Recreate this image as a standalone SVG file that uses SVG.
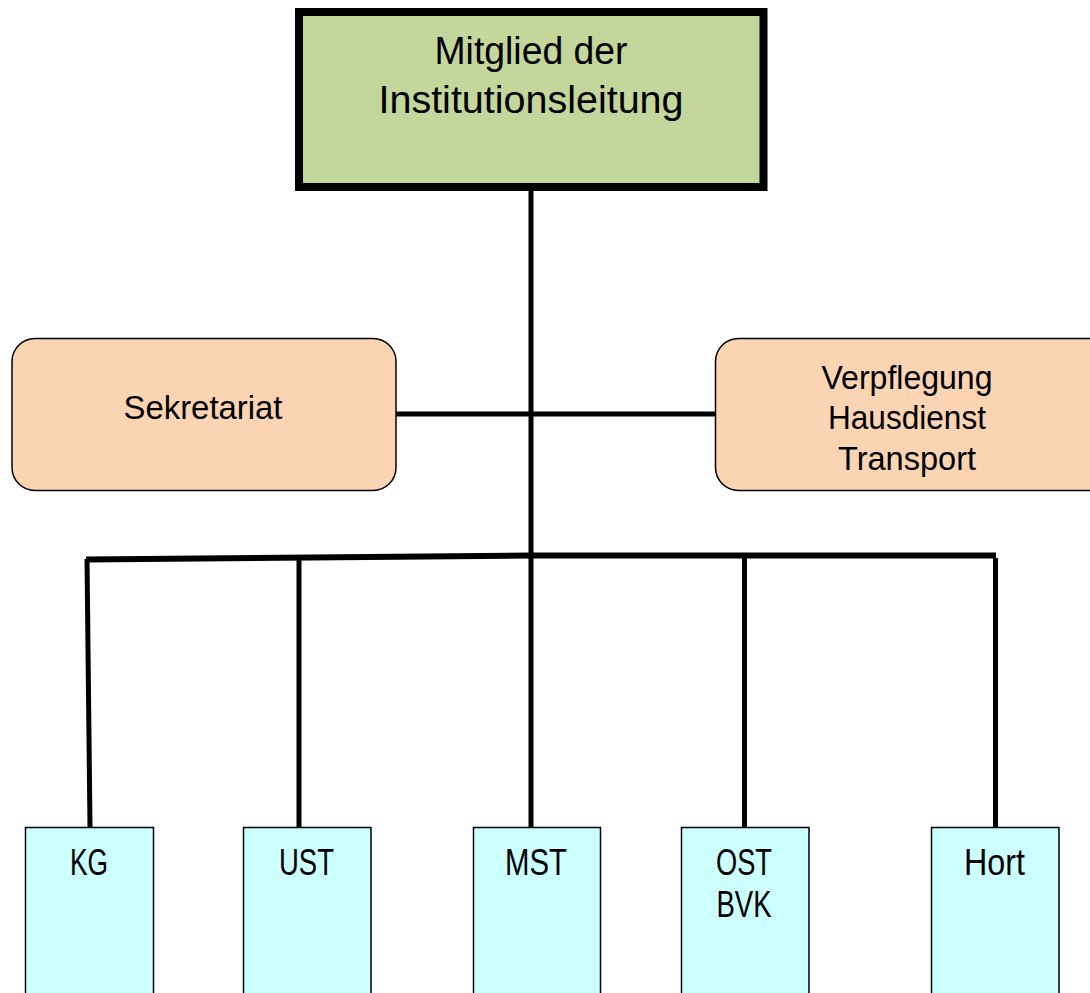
<svg xmlns="http://www.w3.org/2000/svg" width="1090" height="993" viewBox="0 0 1090 993">
<style>
text{font-family:"Liberation Sans",Arial,sans-serif;fill:#000;text-anchor:middle}
.lead{fill:#c3d69b;stroke:#000;stroke-width:8}
.staff{fill:#fad4b3;stroke:#000;stroke-width:1.5}
.unit{fill:#ccffff;stroke:#000;stroke-width:1.5}
.con{fill:none;stroke:#000;stroke-width:5;stroke-linecap:butt;stroke-linejoin:miter}
</style>
<rect width="1090" height="993" fill="#fff"/>
<g id="connectors">
<line class="con" x1="531" y1="190" x2="531" y2="556"/>
<line class="con" x1="396" y1="414" x2="715" y2="414"/>
<polyline class="con" style="stroke-width:6" points="86,559.5 531,555.5 996,555.5"/>
<line class="con" x1="87" y1="559" x2="90" y2="827"/>
<line class="con" x1="299" y1="558" x2="299" y2="827"/>
<line class="con" x1="531" y1="555" x2="531" y2="827"/>
<line class="con" x1="744.5" y1="555" x2="744.5" y2="827"/>
<line class="con" x1="995.5" y1="558" x2="995.5" y2="827"/>
</g>
<g id="leitung">
<rect class="lead" x="299" y="12" width="464.5" height="175"/>
<text x="531" y="64" font-size="38" textLength="193" lengthAdjust="spacingAndGlyphs">Mitglied der</text>
<text x="531" y="113" font-size="38" textLength="305" lengthAdjust="spacingAndGlyphs">Institutionsleitung</text>
</g>
<g id="sekretariat">
<rect class="staff" x="12" y="338.5" width="384" height="152" rx="23" ry="23"/>
<text x="203" y="419" font-size="34" textLength="159" lengthAdjust="spacingAndGlyphs">Sekretariat</text>
</g>
<g id="verpflegung">
<rect class="staff" x="715.5" y="338.5" width="396" height="152" rx="23" ry="23"/>
<text x="907" y="389" font-size="34" textLength="171" lengthAdjust="spacingAndGlyphs">Verpflegung</text>
<text x="907" y="429" font-size="34" textLength="158" lengthAdjust="spacingAndGlyphs">Hausdienst</text>
<text x="907" y="470" font-size="34" textLength="138" lengthAdjust="spacingAndGlyphs">Transport</text>
</g>
<g id="kg">
<rect class="unit" x="25.5" y="827.5" width="128" height="180"/>
<text x="89" y="875" font-size="36" textLength="38" lengthAdjust="spacingAndGlyphs">KG</text>
</g>
<g id="ust">
<rect class="unit" x="243.5" y="827.5" width="127.5" height="180"/>
<text x="306.5" y="875" font-size="36" textLength="55" lengthAdjust="spacingAndGlyphs">UST</text>
</g>
<g id="mst">
<rect class="unit" x="473.5" y="827.5" width="127" height="180"/>
<text x="536" y="875" font-size="36" textLength="62" lengthAdjust="spacingAndGlyphs">MST</text>
</g>
<g id="ost">
<rect class="unit" x="681.5" y="827.5" width="127.5" height="180"/>
<text x="744" y="875" font-size="36" textLength="56" lengthAdjust="spacingAndGlyphs">OST</text>
<text x="744" y="917" font-size="36" textLength="55" lengthAdjust="spacingAndGlyphs">BVK</text>
</g>
<g id="hort">
<rect class="unit" x="931.5" y="827.5" width="127.5" height="180"/>
<text x="994.5" y="875" font-size="36" textLength="61" lengthAdjust="spacingAndGlyphs">Hort</text>
</g>
</svg>
